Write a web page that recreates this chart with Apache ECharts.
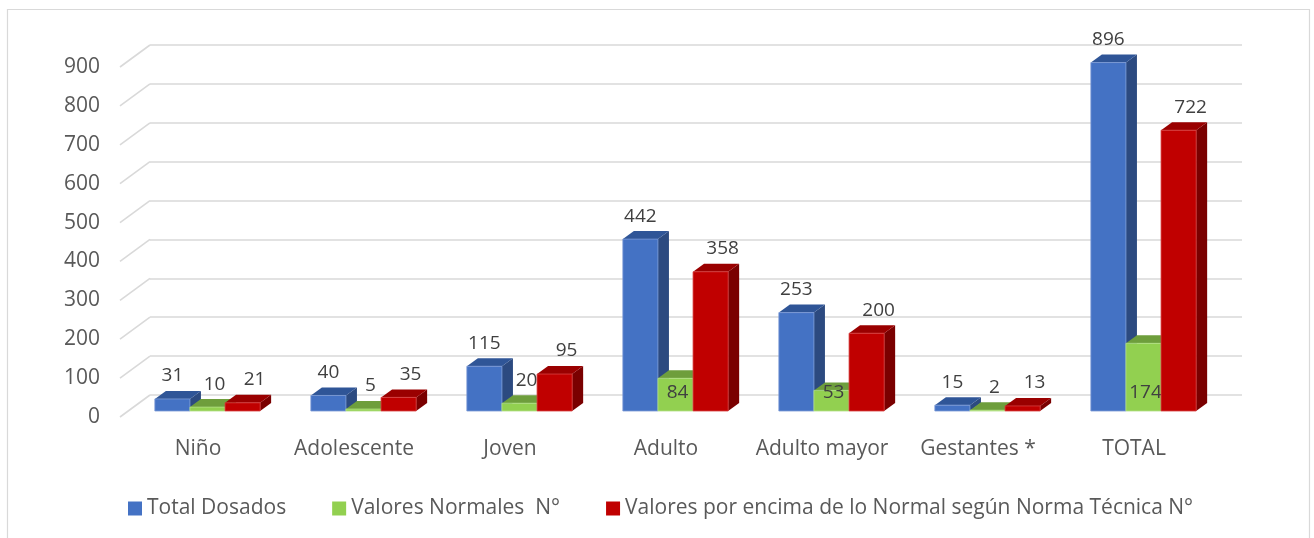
<!DOCTYPE html>
<html>
<head>
<meta charset="utf-8">
<script src="https://cdn.jsdelivr.net/npm/echarts@6/dist/echarts.min.js"></script>
<style>
  html, body { margin: 0; padding: 0; background: #ffffff; }
  #chart { width: 1314px; height: 538px; }
</style>
</head>
<body>
<div id="chart"></div>
<script>
// Age groups and counts
const categories = ['Niño', 'Adolescente', 'Joven', 'Adulto', 'Adulto mayor', 'Gestantes *', 'TOTAL'];
const totalDosados = [31, 40, 115, 442, 253, 15, 896];
const valoresNormales = [10, 5, 20, 84, 53, 2, 174];
const valoresEncima = [21, 35, 95, 358, 200, 13, 722];
const seriesNames = ['Total Dosados', 'Valores Normales  N°', 'Valores por encima de lo Normal según Norma Técnica N°'];
const yTicks = [0, 100, 200, 300, 400, 500, 600, 700, 800, 900];

// Face colours per series: front, top, side
const faces = [
  { front: '#4472C4', top: '#2F5597', side: '#2C4A80', edge: '#7C9BD6' },
  { front: '#92D050', top: '#6E9E3C', side: '#5E8A33', edge: '#B2DF86' },
  { front: '#C00000', top: '#9A0000', side: '#7A0000', edge: '#D84040' }
];

// Oblique projection: the back wall is the grid, bars stand nearer the viewer
const WALL_DX = 30, WALL_DY = 22;   // front edge of floor relative to back wall
const BAR_FX = -20.5, BAR_FY = 16;  // bar front faces relative to back wall
const DEPTH_X = 11, DEPTH_Y = -8;   // bar depth
const FONT = '"Open Sans", "Noto Sans", sans-serif';

function barRenderer(s) {
  return function (params, api) {
    const ci = api.value(0);
    const v = api.value(1);
    const band = api.size([1, 0])[0];
    const w = band * 0.225;
    const top = api.coord([ci, v]);
    const base = api.coord([ci, 0]);
    const x = top[0] + BAR_FX - 1.5 * w + s * w;
    const yT = top[1] + BAR_FY;
    const yB = base[1] + BAR_FY;
    const f = faces[s];
    const children = [
      { type: 'polygon', shape: { points: [[x + w, yT], [x + w + DEPTH_X, yT + DEPTH_Y], [x + w + DEPTH_X, yB + DEPTH_Y], [x + w, yB]] },
        style: { fill: f.side } },
      { type: 'polygon', shape: { points: [[x, yT], [x + w, yT], [x + w + DEPTH_X, yT + DEPTH_Y], [x + DEPTH_X, yT + DEPTH_Y]] },
        style: { fill: f.top } },
      { type: 'rect', shape: { x: x, y: yT, width: w, height: yB - yT },
        style: { fill: f.front, stroke: f.edge, lineWidth: 0.8 } }
    ];
    // value label
    let lx = x + w / 2, ly = yT - 23;
    if (s === 2) lx += 12;
    if (s === 1) {
      if (yB - yT > 15) { ly = yB - 18; lx += 2; }
      else { lx += 7; }
    }
    children.push({
      type: 'text',
      style: { text: String(v), x: lx, y: ly, align: 'center', verticalAlign: 'middle',
               fill: '#404040', font: '19px ' + FONT }
    });
    return { type: 'group', children: children };
  };
}

const chart = echarts.init(document.getElementById('chart'), null, { renderer: 'canvas' });

const barSeries = [totalDosados, valoresNormales, valoresEncima].map(function (vals, s) {
  return {
    name: seriesNames[s],
    type: 'custom',
    xAxisIndex: 0,
    yAxisIndex: 0,
    itemStyle: { color: faces[s].front },
    renderItem: barRenderer(s),
    data: vals.map(function (v, i) { return [i, v]; }),
    z: 3 + s
  };
});

chart.setOption({
  animation: false,
  backgroundColor: '#ffffff',
  graphic: [{
    type: 'rect',
    shape: { x: 7.5, y: 9.5, width: 1302, height: 560 },
    style: { fill: 'none', stroke: '#D9D9D9', lineWidth: 1.2 },
    silent: true
  }],
  legend: {
    data: seriesNames,
    left: 123,
    top: 493,
    icon: 'rect',
    itemWidth: 14,
    itemHeight: 14,
    itemGap: 46,
    textStyle: { fontFamily: FONT, fontSize: 21, color: '#595959' }
  },
  grid: [
    // back wall
    { left: 150, right: 72, top: 45, bottom: 143 },
    // front plane, carries the tick labels
    { left: 150 - WALL_DX, right: 72 + WALL_DX, top: 45 + WALL_DY, bottom: 143 - WALL_DY }
  ],
  xAxis: [
    { type: 'category', gridIndex: 0, data: categories,
      axisLine: { show: false }, axisTick: { show: false }, axisLabel: { show: false } },
    { type: 'category', gridIndex: 1, data: categories,
      axisLine: { show: false }, axisTick: { show: false },
      axisLabel: { interval: 0, margin: 22, fontFamily: FONT, fontSize: 21, color: '#595959' } }
  ],
  yAxis: [
    { type: 'value', gridIndex: 0, min: 0, max: 900, interval: 100,
      axisLine: { show: false }, axisTick: { show: false }, axisLabel: { show: false },
      splitLine: { lineStyle: { color: '#D9D9D9', width: 1.6 } } },
    { type: 'value', gridIndex: 1, min: 0, max: 900, interval: 100,
      axisLine: { show: false }, axisTick: { show: false }, splitLine: { show: false },
      axisLabel: { margin: 20, fontFamily: FONT, fontSize: 21, color: '#595959' } }
  ],
  series: [
    {
      // side-wall edges joining each gridline to its tick label
      type: 'custom',
      xAxisIndex: 0,
      yAxisIndex: 0,
      silent: true,
      z: 1,
      data: yTicks.map(function (t) { return [0, t]; }),
      renderItem: function (params, api) {
        const p = api.coord([0, api.value(1)]);
        const x0 = params.coordSys.x;
        return {
          type: 'line',
          shape: { x1: x0 - WALL_DX, y1: p[1] + WALL_DY, x2: x0, y2: p[1] },
          style: { stroke: '#D9D9D9', lineWidth: 1.6 }
        };
      }
    }
  ].concat(barSeries)
});
</script>
</body>
</html>
